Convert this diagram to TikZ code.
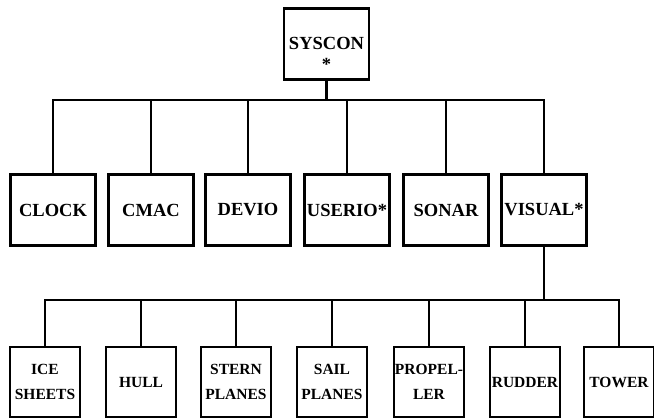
\documentclass[tikz,border=0pt]{standalone}
\usepackage{fontspec}
\setmainfont{Liberation Serif}
\usepackage{tikz}

\begin{document}
\begin{tikzpicture}[x=1pt,y=-1pt,line width=2.8pt,
  modbox/.style={draw,inner sep=0pt,align=center,minimum width=85pt,minimum height=71pt,font=\fontsize{18.5}{21}\selectfont\bfseries},
  subbox/.style={draw,inner sep=0pt,align=center,minimum width=70pt,minimum height=70pt,font=\fontsize{15.5}{25}\selectfont\bfseries}]
\useasboundingbox (0,0) rectangle (654,419);
% top
\node[modbox] (syscon) at (326.5,44) {\rule{0pt}{33pt}SYSCON\\*};
% middle row
\node[modbox] (clock) at (53,210) {CLOCK};
\node[modbox] (cmac) at (151,210) {CMAC};
\node[modbox] (devio) at (248,210) {DEVIO};
\node[modbox] (userio) at (347,210) {USERIO*};
\node[modbox] (sonar) at (446,210) {SONAR};
\node[modbox] (visual) at (544,210) {VISUAL*};
% bottom row
\node[subbox] (ice) at (45,382) {ICE\\SHEETS};
\node[subbox] (hull) at (141,382) {HULL};
\node[subbox] (stern) at (236,382) {STERN\\PLANES};
\node[subbox] (sail) at (332,382) {SAIL\\PLANES};
\node[subbox] (propel) at (429,382) {PROPEL-\\LER};
\node[subbox] (rudder) at (525,382) {RUDDER};
\node[subbox] (tower) at (619,382) {TOWER};
% buses
\coordinate (topbus) at (326.5,100);
\coordinate (lowbus) at (544,300);
\draw (syscon.south) -- (topbus);
\draw (clock.north) |- (topbus) -| (visual.north);
\foreach \n in {cmac,devio,userio,sonar}
  \draw (\n.north) -- (\n.north |- topbus);
\draw (visual.south) -- (lowbus);
\draw (ice.north) |- (lowbus) -| (tower.north);
\foreach \n in {hull,stern,sail,propel,rudder}
  \draw (\n.north) -- (\n.north |- lowbus);
\end{tikzpicture}
\end{document}
